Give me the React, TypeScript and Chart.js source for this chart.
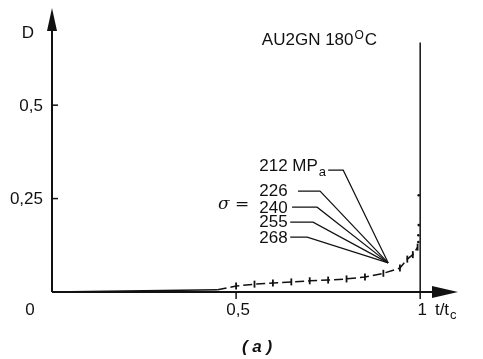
import React, { useEffect, useRef } from "react";
import { Chart, registerables } from "chart.js";

Chart.register(...registerables);

// Damage curve D vs t/tc (AU2GN, 180°C)
const tValues = [0, 0.2, 0.45, 0.5, 0.55, 0.6, 0.65, 0.7, 0.75, 0.8, 0.85, 0.9, 0.945, 0.965, 0.98, 0.993];
const dValues = [0, 0.003, 0.006, 0.016, 0.021, 0.024, 0.027, 0.03, 0.032, 0.035, 0.04, 0.05, 0.064, 0.088, 0.1, 0.12];
// final rupture points near t/tc = 1
const tRupture = [0.995, 0.995, 0.996, 0.996];
const dRupture = [0.134, 0.152, 0.179, 0.259];

// stress labels (MPa)
const stressLabels = ["212", "226", "240", "255", "268"];
const xTicks = [0.5, 1];
const xTickLabels = ["0,5", "1"];
const yTicks = [0.25, 0.5];
const yTickLabels = ["0,25", "0,5"];

// label anchors in data space
const labelTextX = 0.563;
const labelTextY = [0.337, 0.27, 0.225, 0.187, 0.144];
const leaderStartX = [0.75, 0.668, 0.652, 0.647, 0.647];
const leaderEndX = [0.791, 0.728, 0.72, 0.709, 0.693];
const leaderY = [0.326, 0.27, 0.227, 0.187, 0.147];
const convergeX = 0.913;
const convergeY = 0.078;

const FONT = "'Liberation Sans', Arial, Helvetica, sans-serif";

const decorPlugin = {
  id: "decor",
  afterDraw(chart: any) {
    const ctx = chart.ctx as CanvasRenderingContext2D;
    const xs = chart.scales.x;
    const ys = chart.scales.y;
    const X = (v: number) => xs.getPixelForValue(v);
    const Y = (v: number) => ys.getPixelForValue(v);
    const x0 = X(0);
    const y0 = Y(0);
    const top = chart.chartArea.top;
    const right = chart.chartArea.right;
    ctx.save();
    ctx.strokeStyle = "#111";
    ctx.fillStyle = "#111";
    // y axis
    ctx.lineWidth = 2;
    ctx.beginPath();
    ctx.moveTo(x0, y0);
    ctx.lineTo(x0, top + 18);
    ctx.stroke();
    ctx.beginPath();
    ctx.moveTo(x0, top);
    ctx.lineTo(x0 - 5, top + 23);
    ctx.lineTo(x0 + 5, top + 23);
    ctx.closePath();
    ctx.fill();
    // x axis
    ctx.beginPath();
    ctx.moveTo(x0, y0);
    ctx.lineTo(right - 20, y0);
    ctx.stroke();
    ctx.beginPath();
    ctx.moveTo(right + 1, y0);
    ctx.lineTo(right - 25, y0 - 6);
    ctx.lineTo(right - 25, y0 + 6);
    ctx.closePath();
    ctx.fill();
    // ticks
    ctx.lineWidth = 1.5;
    yTicks.forEach((v) => {
      ctx.beginPath();
      ctx.moveTo(x0, Y(v));
      ctx.lineTo(x0 + 6, Y(v));
      ctx.stroke();
    });
    ctx.beginPath();
    ctx.moveTo(X(0.5), y0);
    ctx.lineTo(X(0.5), y0 + 7);
    ctx.stroke();
    // vertical line at t/tc = 1
    ctx.beginPath();
    ctx.moveTo(X(1), Y(0.668));
    ctx.lineTo(X(1), y0 + 7);
    ctx.stroke();

    // text
    ctx.font = "17px " + FONT;
    ctx.textBaseline = "middle";
    ctx.textAlign = "center";
    xTicks.forEach((v, i) => ctx.fillText(xTickLabels[i], X(v) + 2, y0 + 18));
    ctx.fillText("0", x0 - 22, y0 + 18);
    ctx.textAlign = "right";
    yTicks.forEach((v, i) => ctx.fillText(yTickLabels[i], x0 - 9, Y(v) + 1));
    ctx.textAlign = "center";
    ctx.fillText("D", x0 - 24, Y(0.693));
    // t/tc
    ctx.textAlign = "left";
    const tx = X(1.04);
    ctx.fillText("t/t", tx, y0 + 18);
    const w = ctx.measureText("t/t").width;
    ctx.font = "13px " + FONT;
    ctx.fillText("c", tx + w + 1, y0 + 23);
    // title
    ctx.font = "17px " + FONT;
    const ttx = X(0.57);
    const tty = Y(0.673);
    ctx.fillText("AU2GN 180", ttx, tty);
    const w2 = ctx.measureText("AU2GN 180").width;
    ctx.font = "12px " + FONT;
    ctx.fillText("O", ttx + w2 + 1, tty - 5);
    const w3 = ctx.measureText("O").width;
    ctx.font = "17px " + FONT;
    ctx.fillText("C", ttx + w2 + w3 + 2, tty);
    // (a)
    ctx.font = "italic bold 17px " + FONT;
    ctx.textAlign = "center";
    ctx.fillText("( a )", X(0.557), y0 + 55);

    // stress labels
    ctx.font = "17px " + FONT;
    ctx.textAlign = "left";
    stressLabels.forEach((s, i) => {
      const lx = X(labelTextX);
      const ly = Y(labelTextY[i]);
      if (i === 0) {
        ctx.fillText(s + " MP", lx, ly);
        const ww = ctx.measureText(s + " MP").width;
        ctx.font = "13px " + FONT;
        ctx.fillText("a", lx + ww + 1, ly + 6);
        ctx.font = "17px " + FONT;
      } else {
        ctx.fillText(s, lx, ly);
      }
      ctx.lineWidth = 1.2;
      ctx.beginPath();
      ctx.moveTo(X(leaderStartX[i]), Y(leaderY[i]));
      ctx.lineTo(X(leaderEndX[i]), Y(leaderY[i]));
      ctx.lineTo(X(convergeX), Y(convergeY));
      ctx.stroke();
    });
    ctx.font = "italic 17px 'DejaVu Serif', 'Liberation Serif', serif";
    ctx.fillText("σ =", X(0.451), Y(0.233));
    ctx.restore();
  },
};

export default function App() {
  const ref = useRef<HTMLCanvasElement>(null);
  useEffect(() => {
    if (!ref.current) return;
    const chart = new Chart(ref.current, {
      type: "line",
      data: {
        datasets: [
          {
            data: tValues.map((t, i) => ({ x: t, y: dValues[i] })),
            borderColor: "#111",
            borderWidth: 1.5,
            pointStyle: "line",
            rotation: 90,
            pointRadius: (c: any) => (c.dataIndex < 3 ? 0 : 3.5),
            pointBorderColor: "#111",
            pointBorderWidth: 1.8,
            tension: 0,
            segment: {
              borderDash: (c: any) => (c.p0.parsed.x < 0.45 ? [] : [9, 4]),
            },
          } as any,
          {
            data: tRupture.map((t, i) => ({ x: t, y: dRupture[i] })),
            showLine: false,
            pointStyle: "circle",
            pointRadius: 1.3,
            pointBackgroundColor: "#111",
            pointBorderColor: "#111",
            borderWidth: 0,
          } as any,
        ],
      },
      options: {
        animation: false,
        responsive: false,
        devicePixelRatio: 1,
        layout: { padding: { left: 52, right: 26, top: 8, bottom: 67 } },
        plugins: { legend: { display: false }, tooltip: { enabled: false } },
        scales: {
          x: { type: "linear", min: 0, max: 1.1, display: false },
          y: { type: "linear", min: 0, max: 0.76, display: false },
        },
      },
      plugins: [decorPlugin],
    });
    return () => chart.destroy();
  }, []);
  return (
    <div style={{ position: "absolute", left: 0, top: 0, width: 483, height: 359, background: "#fff" }}>
      <canvas ref={ref} width={483} height={359} />
    </div>
  );
}
